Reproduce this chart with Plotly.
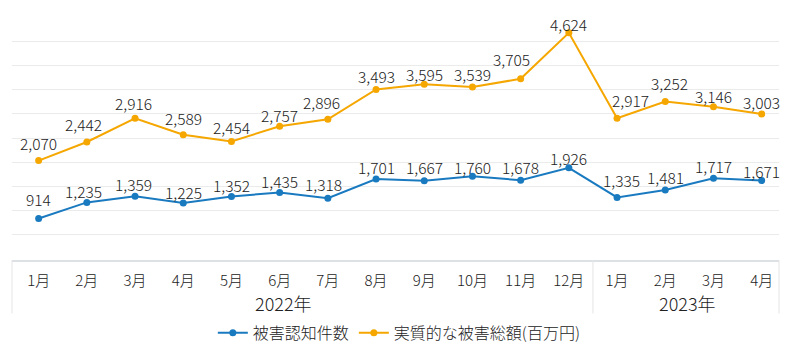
import plotly.graph_objects as go

# Monthly figures, Jan 2022 - Apr 2023
months = ["1月", "2月", "3月", "4月", "5月", "6月", "7月", "8月", "9月", "10月", "11月", "12月",
          "1月", "2月", "3月", "4月"]
years = ["2022年", "2023年"]
cases = [914, 1235, 1359, 1225, 1352, 1435, 1318, 1701, 1667, 1760, 1678, 1926,
         1335, 1481, 1717, 1671]
damage = [2070, 2442, 2916, 2589, 2454, 2757, 2896, 3493, 3595, 3539, 3705, 4624,
          2917, 3252, 3146, 3003]
series_names = ["被害認知件数", "実質的な被害総額(百万円)"]

# Label placement (pixel lift above each point, horizontal nudge) to keep labels off the lines
cases_lift = [19, 11, 12, 11, 12, 11, 14, 12, 14, 9, 13, 10, 17, 13, 12, 10]
cases_nudge = [0, -3, -2, 0, 0, 0, -4, 0, 0, 0, 0, 0, 4, 0, 0, 0]
damage_lift = [18, 18, 15, 17, 14, 11, 17, 13, 10, 13, 20, 9, 18, 18, 11, 12]
damage_nudge = [0, -3, -2, 0, 0, 0, -6, 0, 0, 0, -9, 0, 13, 4, 0, 0]

BLUE = "#1a7ac0"
ORANGE = "#f5a700"
TEXT = "#222222"
FONT = "Noto Sans CJK JP"
WEIGHT = 300

x = list(range(len(months)))

fig = go.Figure()
for vals, name, color in [(cases, series_names[0], BLUE), (damage, series_names[1], ORANGE)]:
    fig.add_trace(go.Scatter(
        x=x, y=vals, name=name, mode="lines+markers",
        line=dict(color=color, width=2),
        marker=dict(color=color, size=7),
        hoverinfo="skip",
    ))

annotations = []
for vals, lift, nudge in [(cases, cases_lift, cases_nudge), (damage, damage_lift, damage_nudge)]:
    for i, v in enumerate(vals):
        annotations.append(dict(
            x=i, y=v, xref="x", yref="y", text=f"{v:,}", showarrow=False,
            xanchor="center", yanchor="middle", yshift=lift[i], xshift=nudge[i],
            font=dict(family=FONT, size=15.5, color=TEXT, weight=WEIGHT),
        ))

# Year labels under the month row
for label, xc in [(years[0], 5.07), (years[1], 13.46)]:
    annotations.append(dict(
        x=xc, y=-0.175, xref="x", yref="paper", text=label, showarrow=False,
        xanchor="center", yanchor="middle",
        font=dict(family=FONT, size=18, color=TEXT, weight=WEIGHT),
    ))

# Frame around the category rows
shapes = []
for xv, xr in [(0, "paper"), (11.5, "x"), (1, "paper")]:
    shapes.append(dict(type="line", xref=xr, yref="paper", x0=xv, x1=xv, y0=0, y1=-0.22,
                       line=dict(color="#e4e4e4", width=1)))

fig.update_layout(
    width=800, height=350,
    margin=dict(l=12, r=21, t=17, b=90, autoexpand=False),
    plot_bgcolor="white", paper_bgcolor="white",
    font=dict(family=FONT, color=TEXT),
    showlegend=True,
    legend=dict(orientation="h", x=0.505, xanchor="center",
                yref="container", y=0.049, yanchor="middle",
                font=dict(family=FONT, size=16, color=TEXT, weight=WEIGHT), itemwidth=30,
                bgcolor="rgba(0,0,0,0)"),
    annotations=annotations,
    shapes=shapes,
)
fig.update_xaxes(
    range=[-0.553, 15.36], tickmode="array", tickvals=x, ticktext=months,
    showgrid=False, zeroline=False, showline=True, linecolor="#dde1e6", linewidth=2,
    ticks="outside", ticklen=6, tickcolor="rgba(0,0,0,0)",
    tickfont=dict(family=FONT, size=15, color=TEXT, weight=WEIGHT),
    automargin=False,
)
fig.update_yaxes(
    range=[84, 4940], tick0=104, dtick=483, showticklabels=False,
    showgrid=True, gridcolor="#ebebeb", gridwidth=1, zeroline=False, showline=False,
    automargin=False,
)

fig.write_html("out.html")
